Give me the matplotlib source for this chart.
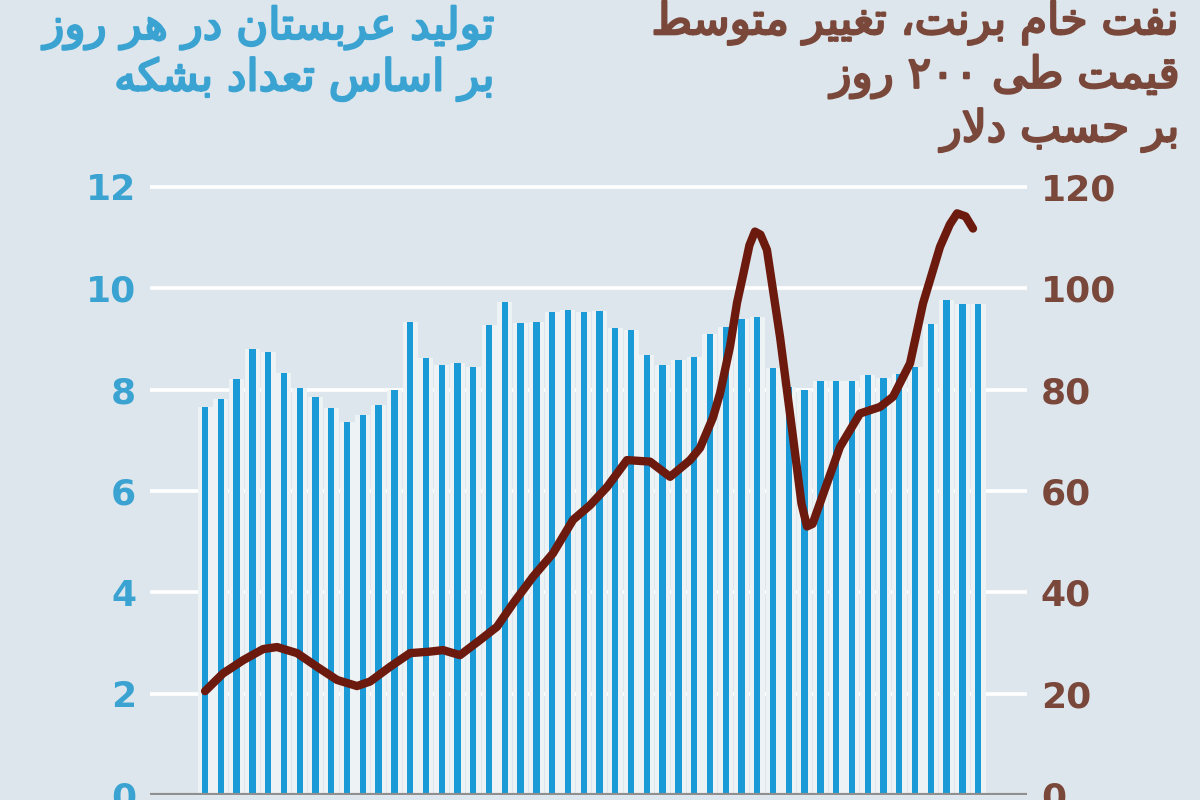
import matplotlib
matplotlib.use("Agg")
import matplotlib.pyplot as plt
import matplotlib.patheffects as pe

# Saudi output, million barrels a day (one bar per quarter)
production = [7.66, 7.81, 8.22, 8.80, 8.75, 8.32, 8.03, 7.86, 7.63, 7.37,
              7.50, 7.70, 7.99, 9.34, 8.62, 8.49, 8.52, 8.44, 9.28, 9.74,
              9.32, 9.34, 9.53, 9.57, 9.54, 9.56, 9.22, 9.18, 8.68, 8.49,
              8.58, 8.65, 9.10, 9.23, 9.40, 9.44, 8.42, 8.05, 7.99, 8.17,
              8.17, 8.17, 8.28, 8.23, 8.30, 8.45, 9.29, 9.76, 9.70, 9.70]

# Brent, 200-day moving average, $ (position in quarters, value)
brent_t = [0.0, 1.14, 2.41, 3.68, 4.56, 5.83, 7.10, 8.37, 9.63, 10.46,
           11.72, 12.99, 14.26, 15.08, 16.16, 17.43, 18.50, 19.52, 20.79, 22.05,
           23.32, 24.40, 25.48, 26.74, 28.20, 29.47, 30.74, 31.37, 32.19, 32.64,
           33.27, 33.71, 34.09, 34.50, 34.85, 35.20, 35.61, 36.44, 37.26, 37.80,
           38.15, 38.50, 38.97, 40.24, 41.51, 42.78, 43.60, 44.68, 45.50, 46.58,
           47.20, 47.66, 48.20, 48.67]
brent = [20.5, 24.0, 26.6, 28.8, 29.2, 28.0, 25.3, 22.7, 21.5, 22.4,
         25.3, 28.0, 28.3, 28.6, 27.6, 30.6, 33.2, 37.8, 43.1, 47.7,
         54.3, 57.2, 60.8, 66.1, 65.8, 62.8, 66.1, 68.5, 74.5, 79.3,
         88.5, 97.1, 102.5, 108.5, 111.2, 110.6, 107.6, 90.4, 70.7, 57.5,
         53.0, 53.5, 57.6, 68.7, 75.3, 76.6, 78.6, 85.2, 97.0, 108.2,
         112.6, 114.8, 114.2, 111.8]

left_ticks = [0, 2, 4, 6, 8, 10, 12]
right_ticks = [0, 20, 40, 60, 80, 100, 120]

left_title = ["تولید عربستان در هر روز", "بر اساس تعداد بشکه"]
right_title = ["نفت خام برنت، تغییر متوسط", "قیمت طی ۲۰۰ روز", "بر حسب دلار"]

# matplotlib has no arabic shaping, so pick the presentation forms by hand
# isolated, final, initial, medial
FORMS = {
    "ا": ("\ufe8d", "\ufe8e", None, None),
    "ب": ("\ufe8f", "\ufe90", "\ufe91", "\ufe92"),
    "ت": ("\ufe95", "\ufe96", "\ufe97", "\ufe98"),
    "ح": ("\ufea1", "\ufea2", "\ufea3", "\ufea4"),
    "خ": ("\ufea5", "\ufea6", "\ufea7", "\ufea8"),
    "د": ("\ufea9", "\ufeaa", None, None),
    "ر": ("\ufead", "\ufeae", None, None),
    "ز": ("\ufeaf", "\ufeb0", None, None),
    "س": ("\ufeb1", "\ufeb2", "\ufeb3", "\ufeb4"),
    "ش": ("\ufeb5", "\ufeb6", "\ufeb7", "\ufeb8"),
    "ط": ("\ufec1", "\ufec2", "\ufec3", "\ufec4"),
    "ع": ("\ufec9", "\ufeca", "\ufecb", "\ufecc"),
    "غ": ("\ufecd", "\ufece", "\ufecf", "\ufed0"),
    "ف": ("\ufed1", "\ufed2", "\ufed3", "\ufed4"),
    "ق": ("\ufed5", "\ufed6", "\ufed7", "\ufed8"),
    "ل": ("\ufedd", "\ufede", "\ufedf", "\ufee0"),
    "م": ("\ufee1", "\ufee2", "\ufee3", "\ufee4"),
    "ن": ("\ufee5", "\ufee6", "\ufee7", "\ufee8"),
    "ه": ("\ufee9", "\ufeea", "\ufeeb", "\ufeec"),
    "و": ("\ufeed", "\ufeee", None, None),
    "ی": ("\ufbfc", "\ufbfd", "\ufbfe", "\ufbff"),
    "ک": ("\ufb8e", "\ufb8f", "\ufb90", "\ufb91"),
}


def rtl(text):
    glyphs = []
    i = 0
    while i < len(text):
        c = text[i]
        if c not in FORMS:
            glyphs.append(c)
            i += 1
            continue
        prev = text[i - 1] if i > 0 else ""
        joins_prev = prev in FORMS and FORMS[prev][2] is not None
        if c == "ل" and text[i + 1:i + 2] == "ا":
            glyphs.append("\ufefc" if joins_prev else "\ufefb")
            i += 2
            continue
        nxt = text[i + 1] if i + 1 < len(text) else ""
        iso, fin, ini, med = FORMS[c]
        joins_next = ini is not None and nxt in FORMS
        if joins_prev and joins_next:
            glyphs.append(med)
        elif joins_prev:
            glyphs.append(fin)
        elif joins_next:
            glyphs.append(ini)
        else:
            glyphs.append(iso)
        i += 1
    # visual order is reversed, digit runs stay left to right
    runs = []
    for g in glyphs:
        if g.isdigit() and runs and runs[-1][0].isdigit():
            runs[-1] += g
        else:
            runs.append(g)
    return "".join(reversed(runs))


bg = "#dde6ec"
blue = "#1a9ad6"
blue_txt = "#3aa3d2"
brown = "#6d1a0e"
brown_txt = "#7a473b"

fig = plt.figure(figsize=(12, 8), dpi=100, facecolor=bg)
ax = fig.add_axes([0.125, 0.00625, 0.7308, 0.798])
ax.set_facecolor(bg)

x = list(range(len(production)))
ax.bar(x, production, width=0.95, color="#edf2f5", zorder=2)
ax.bar(x, production, width=0.4, color=blue, zorder=3)
ax.set_xlim(-3.49, 52.09)
ax.set_ylim(0, 12.6)
ax.set_yticks(left_ticks)
ax.set_yticklabels([str(t) for t in left_ticks])
ax.grid(axis="y", color="white", linewidth=2.6, zorder=1)
ax.set_axisbelow(True)
ax.axhline(0, color="#8f8f8f", linewidth=3, zorder=4)
ax.tick_params(axis="y", length=0, pad=10, labelsize=26, labelcolor=blue_txt)
ax.tick_params(axis="x", length=0, labelbottom=False)
for s in ax.spines.values():
    s.set_visible(False)

ax2 = ax.twinx()
ax2.plot(brent_t, brent, color=brown, linewidth=6, solid_capstyle="round",
         solid_joinstyle="round", zorder=5)
ax2.set_ylim(0, 126)
ax2.set_yticks(right_ticks)
ax2.set_yticklabels([str(t) for t in right_ticks])
ax2.tick_params(axis="y", length=0, pad=10, labelsize=26, labelcolor=brown_txt)
for s in ax2.spines.values():
    s.set_visible(False)

for lab in ax.get_yticklabels() + ax2.get_yticklabels():
    lab.set_fontweight("bold")

# regular face carries the arabic forms; a thin stroke makes it heavier
for k, line in enumerate(left_title):
    fig.text(0.4125, 0.965 - k * 0.064, rtl(line), ha="right", va="center",
             fontsize=31.5, color=blue_txt, family="DejaVu Sans",
             path_effects=[pe.withStroke(linewidth=1.6, foreground=blue_txt)])
for k, line in enumerate(right_title):
    fig.text(0.983, 0.971 - k * 0.067, rtl(line), ha="right", va="center",
             fontsize=31.5, color=brown_txt, family="DejaVu Sans",
             path_effects=[pe.withStroke(linewidth=1.6, foreground=brown_txt)])

fig.savefig("out.png", dpi=100, facecolor=bg)
